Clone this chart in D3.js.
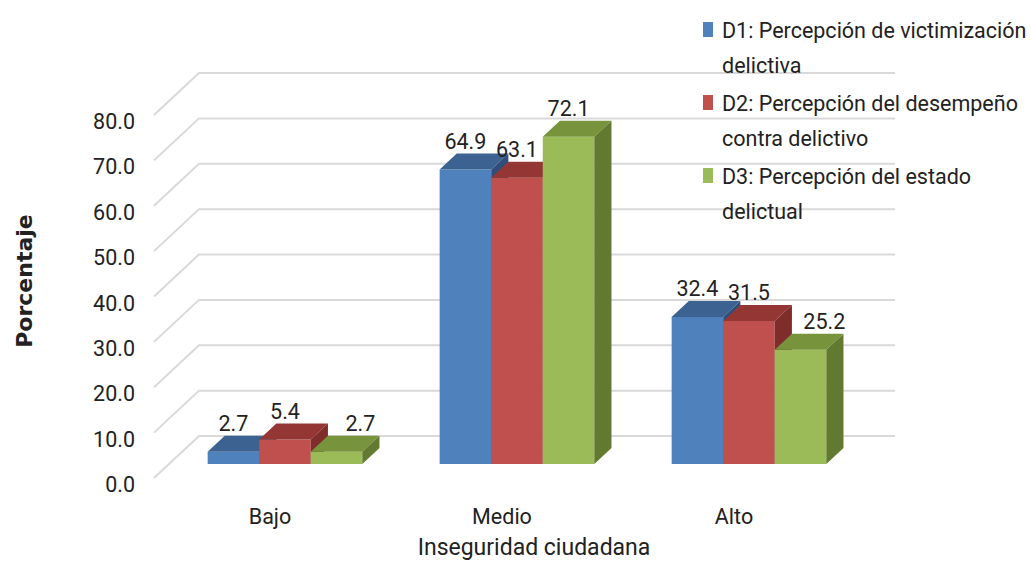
<!DOCTYPE html>
<html>
<head>
<meta charset="utf-8">
<script src="https://cdn.jsdelivr.net/npm/d3@7"></script>
<style>
  body { margin: 0; background: #fff; }
  text { font-family: Roboto, "Liberation Sans", sans-serif; fill: #222; }
</style>
</head>
<body>
<div id="chart"></div>
<script>
// Chart data
var categories = ["Bajo", "Medio", "Alto"];
var d1Values = [2.7, 64.9, 32.4];
var d2Values = [5.4, 63.1, 31.5];
var d3Values = [2.7, 72.1, 25.2];
var seriesKeys = ["D1", "D2", "D3"];
var legendLines = [
  ["D1: Percepción de victimización", "delictiva"],
  ["D2: Percepción del desempeño", "contra delictivo"],
  ["D3: Percepción del estado", "delictual"]
];
var yTicks = [0, 10, 20, 30, 40, 50, 60, 70, 80];
var yTitle = "Porcentaje";
var xTitle = "Inseguridad ciudadana";

var w = 1031, h = 562;
var fs = 21.5;

// colours: front, top, side
var colors = {
  D1: ["#4F81BD", "#3B6291", "#2F4F7A"],
  D2: ["#C0504D", "#943634", "#7E2D2B"],
  D3: ["#9BBB59", "#77933C", "#617A2F"]
};

var svg = d3.select("#chart")
  .append("svg")
    .attr("width", w)
    .attr("height", h);

// Scales (back wall frame)
var yScale = d3.scaleLinear().domain([0, 80]).range([436, 73]);
var xScale = d3.scaleBand().domain(categories).range([199, 895]);
var xInner = d3.scaleBand().domain(seriesKeys).range([0, xScale.bandwidth()]).paddingOuter(0.75);

// depth projection: z = 0 at back wall, z = 1 at front of the floor
var depthX = -45, depthY = 42;
var zFront = 0.667, zBack = 0.286;
function P(x, v, z) { return [x + depthX * z, yScale(v) + depthY * z]; }
function poly(pts) { return pts.map(function(p) { return p.join(","); }).join(" "); }

// Gridlines on back and side wall
var grid = svg.append("g");
yTicks.forEach(function(t) {
  grid.append("polyline")
    .attr("points", poly([P(199, t, 1), P(199, t, 0), P(895, t, 0)]))
    .attr("fill", "none")
    .attr("stroke", "#D9D9D9")
    .attr("stroke-width", 2);
});

// Y tick labels
svg.append("g").selectAll("text").data(yTicks).enter().append("text")
  .attr("x", 135)
  .attr("y", function(d) { return P(199, d, 1)[1] + 14; })
  .attr("text-anchor", "end")
  .attr("font-size", fs)
  .text(function(d) { return d.toFixed(1); });

// Bars
var table = [];
categories.forEach(function(c, i) {
  table.push({ cat: c, key: "D1", value: d1Values[i] });
  table.push({ cat: c, key: "D2", value: d2Values[i] });
  table.push({ cat: c, key: "D3", value: d3Values[i] });
});

var bars = svg.append("g").selectAll("g").data(table).enter().append("g");
bars.each(function(d) {
  var g = d3.select(this);
  var x0 = xScale(d.cat) + xInner(d.key);
  var x1 = x0 + xInner.bandwidth();
  var col = colors[d.key];
  g.append("polygon")
    .attr("points", poly([P(x0, 0, zFront), P(x1, 0, zFront), P(x1, d.value, zFront), P(x0, d.value, zFront)]))
    .attr("fill", col[0]);
  g.append("polygon")
    .attr("points", poly([P(x0, d.value, zFront), P(x1, d.value, zFront), P(x1, d.value, zBack), P(x0, d.value, zBack)]))
    .attr("fill", col[1]);
  g.append("polygon")
    .attr("points", poly([P(x1, 0, zFront), P(x1, d.value, zFront), P(x1, d.value, zBack), P(x1, 0, zBack)]))
    .attr("fill", col[2]);
});

// Value labels (last series nudged right when it is lower than its neighbour, as in the original)
svg.append("g").selectAll("text").data(table).enter().append("text")
  .attr("x", function(d, i) {
    var cx = P(xScale(d.cat) + xInner(d.key) + xInner.bandwidth() / 2, 0, zFront)[0];
    if (d.key === "D3" && d.value < table[i - 1].value) cx += xInner.bandwidth() / 2 - 2;
    return cx;
  })
  .attr("y", function(d) { return P(0, d.value, zFront)[1] - 21; })
  .attr("text-anchor", "middle")
  .attr("font-size", fs)
  .text(function(d) { return d.value.toFixed(1); });

// Category labels
svg.append("g").selectAll("text").data(categories).enter().append("text")
  .attr("x", function(d) { return P(xScale(d) + xScale.bandwidth() / 2, 0, 1)[0]; })
  .attr("y", P(0, 0, 1)[1] + 46)
  .attr("text-anchor", "middle")
  .attr("font-size", fs)
  .text(function(d) { return d; });

// Axis titles
svg.append("text")
  .attr("x", 534)
  .attr("y", 555)
  .attr("text-anchor", "middle")
  .attr("font-size", 23)
  .text(xTitle);

svg.append("text")
  .attr("transform", "translate(32,281) rotate(-90)")
  .attr("text-anchor", "middle")
  .attr("font-size", 22)
  .attr("font-weight", "bold")
  .style("font-family", "'DejaVu Sans', sans-serif")
  .text(yTitle);

// Legend
var legend = svg.append("g").selectAll("g").data(seriesKeys).enter().append("g")
  .attr("transform", function(d, i) { return "translate(703," + (38 + i * 73) + ")"; });
legend.append("rect")
  .attr("x", 0)
  .attr("y", -16)
  .attr("width", 10)
  .attr("height", 15)
  .attr("fill", function(d) { return colors[d][0]; });
legend.each(function(d, i) {
  var g = d3.select(this);
  legendLines[i].forEach(function(line, j) {
    g.append("text")
      .attr("x", 19)
      .attr("y", j * 35)
      .attr("font-size", fs)
      .text(line);
  });
});
</script>
</body>
</html>
